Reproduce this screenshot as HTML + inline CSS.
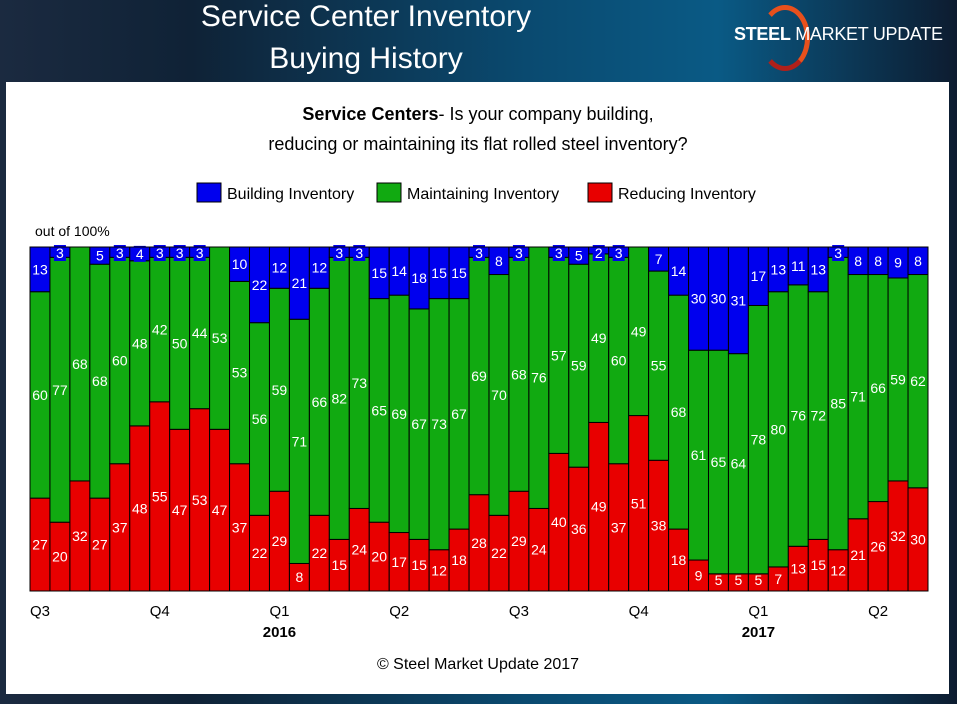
<!DOCTYPE html>
<html><head><meta charset="utf-8"><style>
body{margin:0;width:957px;height:704px;overflow:hidden;background:linear-gradient(90deg,#1b2a40 0%,#0f2236 20%,#0a4a70 55%,#0a5a85 75%,#0d1c30 100%);font-family:"Liberation Sans",sans-serif;}
#panel{position:absolute;left:6px;top:82px;width:943px;height:612px;background:#fff;}
.t{position:absolute;color:#fff;font-size:30px;text-align:center;width:600px;left:66px;}
</style></head><body>
<div class="t" style="top:0px">Service Center Inventory</div>
<div class="t" style="top:42px">Buying History</div>
<div style="position:absolute;left:760px;top:5px;width:40px;height:56px;border-radius:50%;border:5px solid #e8501c;border-left-color:transparent;border-bottom-color:#b0201a;"></div>
<div style="position:absolute;left:734px;top:24px;color:#fff;font-size:18px;white-space:nowrap;letter-spacing:-0.3px"><b>STEEL</b> MARKET <span style="font-weight:normal">UPDATE</span></div>
<div id="panel"></div>
<svg id="c" width="957" height="704" style="position:absolute;left:0;top:0"></svg>
<script>
const reducing=[27,20,32,27,37,48,55,47,53,47,37,22,29,8,22,15,24,20,17,15,12,18,28,22,29,24,40,36,49,37,51,38,18,9,5,5,5,7,13,15,12,21,26,32,30];
const maintaining=[60,77,68,68,60,48,42,50,44,53,53,56,59,71,66,82,73,65,69,67,73,67,69,70,68,76,57,59,49,60,49,55,68,61,65,64,78,80,76,72,85,71,66,59,62];
const building=[13,3,0,5,3,4,3,3,3,0,10,22,12,21,12,3,3,15,14,18,15,15,3,8,3,0,3,5,2,3,0,7,14,30,30,31,17,13,11,13,3,8,8,9,8];
const quarters=[[0,"Q3"],[6,"Q4"],[12,"Q1"],[18,"Q2"],[24,"Q3"],[30,"Q4"],[36,"Q1"],[42,"Q2"]];
const years=[[12.5,"2016"],[36.5,"2017"]];
const svg=document.getElementById('c');const NS='http://www.w3.org/2000/svg';
const X0=30,X1=928,Y0=591,Y1=247,bw=(X1-X0)/reducing.length;
const x=i=>X0+i*bw, y=v=>Y0-(Y0-Y1)*v/100;
function el(t,a,txt){const e=document.createElementNS(NS,t);for(const k in a)e.setAttribute(k,a[k]);if(txt!==undefined)e.textContent=txt;svg.appendChild(e);return e;}
function tx(xx,yy,s,o){return el('text',Object.assign({x:xx,y:yy,'font-family':'Liberation Sans, sans-serif','font-size':14},o||{}),s);}
let e;
e=tx(478,120,"",{'text-anchor':'middle','font-size':18});e.innerHTML='<tspan font-weight="bold">Service Centers</tspan>- Is your company building,';

e=tx(478,150,"reducing or maintaining its flat rolled steel inventory?",{'text-anchor':'middle','font-size':18});

const leg=[[197,'#0000ee','Building Inventory'],[377,'#11aa11','Maintaining Inventory'],[588,'#e80000','Reducing Inventory']];
leg.forEach(l=>{e=el('rect',{x:l[0],y:183,width:24,height:19,fill:l[1],stroke:'#000'});

e=tx(l[0]+30,199,l[2],{'font-size':16});
});
e=tx(35,236,"out of 100%",{'font-size':14});
el('rect',{x:X0,y:Y1,width:X1-X0,height:Y0-Y1,fill:'#0000ee'});
for(let i=0;i<reducing.length;i++){
 const r=reducing[i],m=maintaining[i],b=building[i];
 e=el('rect',{x:x(i),y:y(r),width:bw,height:Y0-y(r),fill:'#e80000',stroke:'#000','stroke-width':1});
 
 e=el('rect',{x:x(i),y:y(r+m),width:bw,height:y(r)-y(r+m),fill:'#11aa11',stroke:'#000','stroke-width':1});
 
 if(b>0){e=el('rect',{x:x(i),y:Y1,width:bw,height:y(r+m)-Y1,fill:'#0000ee',stroke:'#000','stroke-width':1});
 }
 const cx=x(i)+bw/2;
 e=tx(cx,Math.min((y(r)+Y0)/2+5,585),r,{'text-anchor':'middle',fill:'#fff'});
 
 e=tx(cx,(y(r)+y(r+m))/2+5,m,{'text-anchor':'middle',fill:'#fff'});
 
 if(b>0){const ly=Math.max((Y1+y(r+m))/2+5,258);
  if(b<6){e=el('rect',{x:cx-6,y:ly-13,width:12,height:16,fill:'#0000ee'});}
  e=tx(cx,ly,b,{'text-anchor':'middle',fill:'#fff'});
  }
}
el('rect',{x:X0,y:Y1,width:X1-X0,height:Y0-Y1,fill:'none',stroke:'#000'});
quarters.forEach(q=>{e=tx(x(q[0]),616,q[1],{'font-size':15});});
years.forEach(q=>{e=tx(x(q[0]),637,q[1],{'font-size':15,'font-weight':'bold','text-anchor':'middle'});});
e=tx(478,669,"© Steel Market Update 2017",{'font-size':16,'text-anchor':'middle'});

</script></body></html>
